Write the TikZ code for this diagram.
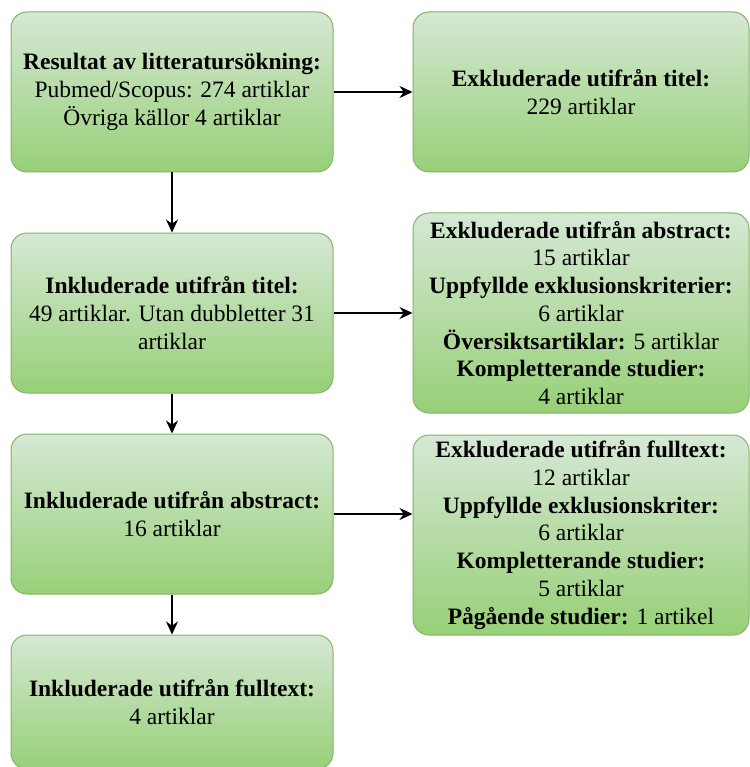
\documentclass[tikz,border=0pt]{standalone}
\usepackage{fontspec}
\setmainfont{Liberation Serif}
\usepackage{xcolor}
\usetikzlibrary{positioning,arrows.meta}
\definecolor{boxtop}{HTML}{D5E8D4}
\definecolor{boxbottom}{HTML}{97D077}
\definecolor{boxline}{HTML}{82B366}
\tikzstyle{stage} = [rectangle, rounded corners=16pt, draw=boxline, line width=1pt, top color=boxtop, bottom color=boxbottom, align=center, inner sep=0pt, minimum width=322pt, minimum height=160pt, font=\fontsize{23.5}{27.7}\selectfont]
\tikzstyle{excl} = [stage, minimum width=336pt]

\begin{document}
\begin{tikzpicture}[x=1pt,y=1pt,->,>={Stealth[length=13pt,width=12pt]},line width=1.5pt]
  \useasboundingbox (0,0) rectangle (749,-767);
  \node[stage] (res) at (172,-92) {\textbf{Resultat av litteratursökning:}\\Pubmed/Scopus: 274 artiklar\\Övriga källor 4 artiklar};
  \node[stage] (inTitel) [below=60pt of res] {\textbf{Inkluderade utifrån titel:}\\49 artiklar. Utan dubbletter 31\\artiklar};
  \node[stage] (inAbs) [below=40pt of inTitel] {\textbf{Inkluderade utifrån abstract:}\\16 artiklar};
  \node[stage, minimum height=134pt] (inFull) [below=40pt of inAbs] {\textbf{Inkluderade utifrån fulltext:}\\4 artiklar};
  \node[excl] (exTitel) [right=79pt of res] {\textbf{Exkluderade utifrån titel:}\\229 artiklar};
  \node[excl, minimum height=200pt] (exAbs) [right=79pt of inTitel] {\textbf{Exkluderade utifrån abstract:}\\15 artiklar\\\textbf{Uppfyllde exklusionskriterier:}\\6 artiklar\\\textbf{Översiktsartiklar:} 5 artiklar\\\textbf{Kompletterande studier:}\\4 artiklar};
  \node[excl, minimum height=200pt] (exFull) [below=21pt of exAbs] {\textbf{Exkluderade utifrån fulltext:}\\12 artiklar\\\textbf{Uppfyllde exklusionskriter:}\\6 artiklar\\\textbf{Kompletterande studier:}\\5 artiklar\\\textbf{Pågående studier:} 1 artikel};

  \path (res) edge (inTitel);
  \path (inTitel) edge (inAbs);
  \path (inAbs) edge (inFull);
  \path (res) edge (exTitel);
  \path (inTitel) edge (exAbs);
  \path (inAbs.east) edge (inAbs.east -| exFull.west);
\end{tikzpicture}
\end{document}
